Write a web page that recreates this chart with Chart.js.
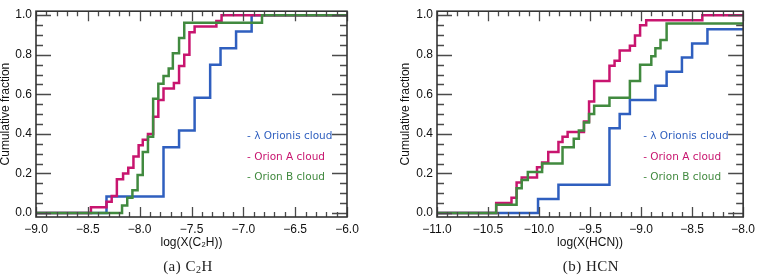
<!DOCTYPE html>
<html lang="en">
<head>
    <meta charset="UTF-8">
    <title>Cumulative fraction - C2H and HCN</title>
    <style>
        body {
            margin: 0;
            background: #ffffff;
        }

        .wrap {
            position: relative;
            width: 760px;
            height: 279px;
            overflow: hidden;
        }

        canvas {
            position: absolute;
            top: 0;
        }

        #c2hChart { left: 0; }
        #hcnChart { left: 380px; }

        .caption {
            position: absolute;
            top: 258px;
            font-family: "Liberation Serif", serif;
            font-size: 15px;
            letter-spacing: 0.5px;
            color: #222;
            transform: translateX(-50%);
            white-space: nowrap;
        }

        .caption sub {
            font-size: 10px;
            vertical-align: -2px;
        }
    </style>
</head>
<body>
    <div class="wrap">
        <canvas id="c2hChart" width="380" height="279"></canvas>
        <canvas id="hcnChart" width="380" height="279"></canvas>
        <div class="caption" style="left:188px">(a) C<sub>2</sub>H</div>
        <div class="caption" style="left:591px">(b) HCN</div>
    </div>

    <script src="https://cdn.jsdelivr.net/npm/chart.js"></script>
    <script>
        // ---- data ----
        const cloudLabels = ['λ Orionis cloud', 'Orion A cloud', 'Orion B cloud'];
        const cloudColors = ['#2f5fbf', '#c8156f', '#418a3f'];

        const yTicks = [0.0, 0.2, 0.4, 0.6, 0.8, 1.0];
        const c2hTicks = [-9.0, -8.5, -8.0, -7.5, -7.0, -6.5, -6.0];
        const hcnTicks = [-11.0, -10.5, -10.0, -9.5, -9.0, -8.5, -8.0];

        // C2H panel
        const c2hLambdaX = [-9.0, -8.32, -7.77, -7.62, -7.47, -7.32, -7.22, -7.07, -6.92, -6.0];
        const c2hLambdaY = [0.0, 0.083, 0.333, 0.417, 0.583, 0.750, 0.833, 0.917, 1.0, 1.0];

        const c2hOriAX = [-9.0, -8.47, -8.32, -8.27, -8.22, -8.16, -8.11, -8.06, -8.01, -7.97, -7.92,
                          -7.87, -7.82, -7.77, -7.67, -7.62, -7.57, -7.52, -7.47, -7.26, -7.21, -6.0];
        const c2hOriAY = [0.0, 0.029, 0.057, 0.086, 0.171, 0.200, 0.229, 0.286, 0.343, 0.371, 0.400,
                          0.486, 0.571, 0.629, 0.657, 0.743, 0.800, 0.914, 0.943, 0.971, 1.0, 1.0];

        const c2hOriBX = [-9.0, -8.17, -8.12, -8.07, -8.02, -7.97, -7.92, -7.87, -7.82, -7.77, -7.72,
                          -7.68, -7.62, -7.57, -6.82, -6.0];
        const c2hOriBY = [0.0, 0.038, 0.077, 0.115, 0.192, 0.308, 0.385, 0.577, 0.654, 0.692, 0.731,
                          0.808, 0.885, 0.962, 1.0, 1.0];

        // HCN panel
        const hcnLambdaX = [-11.0, -10.01, -9.81, -9.31, -9.21, -9.11, -8.86, -8.75, -8.60, -8.50, -8.35, -8.0];
        const hcnLambdaY = [0.0, 0.071, 0.143, 0.429, 0.500, 0.571, 0.643, 0.714, 0.786, 0.857, 0.929, 0.929];

        const hcnOriAX = [-11.0, -10.42, -10.27, -10.22, -10.17, -10.02, -9.97, -9.91, -9.81, -9.77, -9.72,
                          -9.56, -9.51, -9.46, -9.31, -9.26, -9.21, -9.11, -9.06, -9.01, -8.95, -8.40, -8.0];
        const hcnOriAY = [0.0, 0.051, 0.077, 0.154, 0.179, 0.231, 0.256, 0.308, 0.359, 0.385, 0.410,
                          0.462, 0.564, 0.667, 0.744, 0.769, 0.821, 0.846, 0.897, 0.949, 0.974, 1.0, 1.0];

        const hcnOriBX = [-11.0, -10.42, -10.22, -10.17, -10.11, -9.97, -9.77, -9.66, -9.61, -9.56, -9.51,
                          -9.46, -9.31, -9.11, -9.01, -8.90, -8.86, -8.81, -8.75, -8.0];
        const hcnOriBY = [0.0, 0.042, 0.125, 0.167, 0.208, 0.250, 0.333, 0.375, 0.417, 0.458, 0.500,
                          0.542, 0.583, 0.667, 0.750, 0.792, 0.833, 0.875, 0.958, 0.958];

        const sansFont = '"Liberation Sans", Arial, sans-serif';

        function formatTick(v) {
            return (v < 0 ? '\u2212' : '') + Math.abs(v).toFixed(1);
        }

        // box + inward ticks on all four sides
        const frameTicks = {
            id: 'frameTicks',
            afterDatasetsDraw(chart) {
                const {ctx, chartArea: a, scales: {x, y}} = chart;
                ctx.save();
                ctx.strokeStyle = '#4a4a4a';
                ctx.lineWidth = 1.3;
                ctx.beginPath();
                const nx = Math.round((x.max - x.min) / 0.1);
                for (let i = 0; i <= nx; i++) {
                    const px = Math.round(x.getPixelForValue(x.min + i * 0.1)) + 0.5;
                    const len = (i % 5 === 0) ? 10 : 5;
                    ctx.moveTo(px, a.bottom); ctx.lineTo(px, a.bottom - len);
                    ctx.moveTo(px, a.top); ctx.lineTo(px, a.top + len);
                }
                for (let i = 0; i <= 20; i++) {
                    const py = Math.round(y.getPixelForValue(i * 0.05)) + 0.5;
                    const len = (i % 4 === 0) ? 15 : 7;
                    ctx.moveTo(a.left, py); ctx.lineTo(a.left + len, py);
                    ctx.moveTo(a.right, py); ctx.lineTo(a.right - len, py);
                }
                ctx.stroke();
                ctx.strokeStyle = '#333';
                ctx.lineWidth = 1.6;
                ctx.strokeRect(a.left, a.top, a.right - a.left, a.bottom - a.top);
                ctx.restore();
            }
        };

        // text legend inside the plot
        const textLegend = {
            id: 'textLegend',
            afterDraw(chart) {
                const {ctx, chartArea: a} = chart;
                ctx.save();
                ctx.font = '10.5px "DejaVu Sans", sans-serif';
                ctx.textBaseline = 'middle';
                ctx.textAlign = 'left';
                cloudLabels.forEach((lbl, i) => {
                    ctx.fillStyle = cloudColors[i];
                    ctx.fillText('- ' + lbl, a.right - 100, a.top + 125.5 + i * 20.5);
                });
                ctx.restore();
            }
        };

        function makeChart(id, xs, ys, xTicks, xTitle, yAxisWidth, yTitlePad, rightPad) {
            const order = [2, 1, 0]; // Orion B on top
            return new Chart(document.getElementById(id), {
                type: 'line',
                data: {
                    datasets: xs.map((xv, k) => ({
                        label: cloudLabels[k],
                        data: xv.map((v, i) => ({x: v, y: ys[k][i]})),
                        borderColor: cloudColors[k],
                        borderWidth: 2.5,
                        pointRadius: 0,
                        stepped: true,
                        fill: false,
                        order: order[k]
                    }))
                },
                options: {
                    responsive: false,
                    animation: false,
                    layout: {padding: {top: 1, right: rightPad, left: 0, bottom: 0}},
                    plugins: {legend: {display: false}, tooltip: {enabled: false}},
                    scales: {
                        x: {
                            type: 'linear',
                            min: xTicks[0],
                            max: xTicks[xTicks.length - 1],
                            grid: {display: false, drawTicks: false},
                            border: {display: false},
                            afterBuildTicks: s => { s.ticks = xTicks.map(v => ({value: v})); },
                            afterFit: s => { s.height = 62; },
                            ticks: {
                                padding: 5,
                                autoSkip: false,
                                maxRotation: 0,
                                color: '#111',
                                font: {family: sansFont, size: 12},
                                callback: v => formatTick(v)
                            },
                            title: {
                                display: true,
                                text: xTitle,
                                color: '#111',
                                font: {family: sansFont, size: 12},
                                padding: {top: 0, bottom: 29}
                            }
                        },
                        y: {
                            min: -0.02,
                            max: 1.02,
                            grid: {display: false, drawTicks: false},
                            border: {display: false},
                            afterBuildTicks: s => { s.ticks = yTicks.map(v => ({value: v})); },
                            afterFit: s => { s.width = yAxisWidth; },
                            ticks: {
                                padding: 4,
                                color: '#111',
                                font: {family: sansFont, size: 12},
                                callback: v => formatTick(v)
                            },
                            title: {
                                display: true,
                                text: 'Cumulative fraction',
                                color: '#111',
                                font: {family: sansFont, size: 12, lineHeight: 1},
                                padding: {top: yTitlePad, bottom: 0}
                            }
                        }
                    }
                },
                plugins: [frameTicks, textLegend]
            });
        }

        makeChart('c2hChart',
            [c2hLambdaX, c2hOriAX, c2hOriBX],
            [c2hLambdaY, c2hOriAY, c2hOriBY],
            c2hTicks, 'log(X(C\u2082H))', 36, 0, 33);

        makeChart('hcnChart',
            [hcnLambdaX, hcnOriAX, hcnOriBX],
            [hcnLambdaY, hcnOriAY, hcnOriBY],
            hcnTicks, 'log(X(HCN))', 57, 20, 13);
    </script>
</body>
</html>
